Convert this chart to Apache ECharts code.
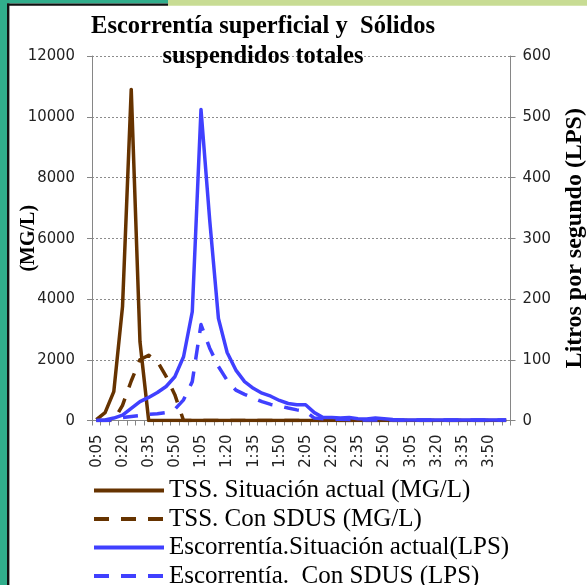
<!DOCTYPE html>
<html>
<head>
<meta charset="utf-8">
<script src="https://cdn.jsdelivr.net/npm/echarts@6/dist/echarts.min.js"></script>
<style>
html,body{margin:0;padding:0;background:#fff;}
#chart{width:587px;height:585px;}
</style>
</head>
<body>
<div id="chart"></div>
<script>
var times = ['0:05','0:10','0:15','0:20','0:25','0:30','0:35','0:40','0:45','0:50','0:55','1:00',
             '1:05','1:10','1:15','1:20','1:25','1:30','1:35','1:40','1:45','1:50','1:55','2:00',
             '2:05','2:10','2:15','2:20','2:25','2:30','2:35','2:40','2:45','2:50','2:55','3:00',
             '3:05','3:10','3:15','3:20','3:25','3:30','3:35','3:40','3:45','3:50','3:55','4:00'];

var tssActual = [30,260,950,3750,10900,2600,0,0,0,0,0,0,
                 0,0,0,0,0,0,0,0,0,0,0,0,
                 0,0,0,0,0,0,0,0,0,0,0,0,
                 0,0,0,0,0,0,0,0,0,0,0,0];

var tssSdus = [0,0,0,500,1300,2000,2150,1950,1450,850,0,0,
               0,0,0,0,0,0,0,0,0,0,0,0,
               0,0,0,0,0,0,0,0,0,0,0,0,
               0,0,0,0,0,0,0,0,0,0,0,0];

var escActual = [0,1,4,9,20,31,38,46,56,72,105,179,
                 512,330,168,112,83,64,53,45,40,33,28,26,
                 26,13,5,5,4,5,3,2.5,4,3,1.5,1,
                 1,1,1,1,1,1,1,1,1,1,1,1];

var escSdus = [0,0,1,5,6.5,8,10,11,13,18.5,34,64,
               158,119,89,66,50,43,37,31,26.5,24,20.5,17.5,
               15,4,3,2,2,1.5,1,1,1,1,1,1,
               1,1,1,1,1,1,1,1,1,1,1,1];

var leftTicks = [0,2000,4000,6000,8000,10000,12000];
var rightTicks = [0,100,200,300,400,500,600];

var names = ['TSS. Situación actual (MG/L)','TSS. Con SDUS (MG/L)',
             'Escorrentía.Situación actual(LPS)','Escorrentía.  Con SDUS (LPS)'];

var brown = '#663300';
var blue = '#4040FF';
var axisGray = '#868686';
var labelFont = "'DejaVu Sans Condensed','DejaVu Sans',sans-serif";
var serif = "'Liberation Serif','Times New Roman',serif";

var chart = echarts.init(document.getElementById('chart'), null, {renderer:'canvas'});

function mkSeries(name, data, color, dashed, yIdx){
  return {
    name: name, type: 'line', data: data, yAxisIndex: yIdx,
    symbol: 'none', showSymbol: false, smooth: false,
    lineStyle: {color: color, width: 3.5, type: dashed ? [15, 12] : 'solid', cap: 'butt', join: 'round'},
    itemStyle: {color: color},
    emphasis: {disabled: true}
  };
}

function plain(v){ return String(v); }

chart.setOption({
  animation: false,
  backgroundColor: '#ffffff',
  graphic: [
    {type:'rect', shape:{x:0,y:0,width:7,height:585}, style:{fill:'#31AE8C'}, z:100},
    {type:'rect', shape:{x:0,y:0,width:168,height:3.5}, style:{fill:'#31AE8C'}, z:100},
    {type:'rect', shape:{x:168,y:0,width:419,height:5.7}, style:{fill:'#C8DC94'}, z:100},
    {type:'rect', shape:{x:7,y:3.5,width:161,height:2.3}, style:{fill:'#111111'}, z:101},
    {type:'rect', shape:{x:7,y:3.5,width:2.4,height:582}, style:{fill:'#111111'}, z:101}
  ],
  title: {
    text: 'Escorrentía superficial y  Sólidos\nsuspendidos totales',
    left: 263, top: 12, textAlign: 'center', padding: 0,
    textStyle: {fontFamily: serif, fontWeight: 'bold', fontSize: 24.5, lineHeight: 30, color: '#000'}
  },
  legend: {
    data: names,
    orient: 'vertical', left: 92, top: 478, height: 160, padding: 0,
    itemWidth: 70, itemHeight: 14, itemGap: 3.5,
    itemStyle: {opacity: 0},
    lineStyle: {width: 4},
    textStyle: {fontFamily: serif, fontSize: 25, lineHeight: 24, color: '#000'},
    selectedMode: false
  },
  grid: {left: 92, right: 76.5, top: 56, bottom: 164.5, containLabel: false, outerBoundsMode: 'none'},
  xAxis: {
    type: 'category', data: times, boundaryGap: true,
    axisLine: {lineStyle: {color: axisGray, width: 1}},
    axisTick: {show: true, interval: 0, length: 5, lineStyle: {color: axisGray}},
    axisLabel: {interval: 2, rotate: 90, margin: 14, fontFamily: labelFont, fontSize: 16.5, color: '#222'},
    splitLine: {show: false}
  },
  yAxis: [
    {
      type: 'value', min: leftTicks[0], max: leftTicks[leftTicks.length-1], interval: leftTicks[1]-leftTicks[0],
      name: '(MG/L)', nameLocation: 'middle', nameRotate: 90, nameGap: 53, nameMoveOverlap: false,
      nameTextStyle: {fontFamily: serif, fontWeight: 'bold', fontSize: 20, color: '#000'},
      axisLine: {show: true, lineStyle: {color: axisGray}},
      axisTick: {show: true, length: 5, lineStyle: {color: axisGray}},
      axisLabel: {margin: 17, formatter: plain, fontFamily: labelFont, fontSize: 16.5, color: '#222'},
      splitLine: {show: true, lineStyle: {color: '#8c8c8c', type: [2, 2], width: 1}}
    },
    {
      type: 'value', min: rightTicks[0], max: rightTicks[rightTicks.length-1], interval: rightTicks[1]-rightTicks[0],
      position: 'right',
      name: 'Litros por segundo (LPS)', nameLocation: 'middle', nameRotate: 90, nameGap: 52, nameMoveOverlap: false,
      nameTextStyle: {fontFamily: serif, fontWeight: 'bold', fontSize: 24, color: '#000'},
      axisLine: {show: true, lineStyle: {color: axisGray}},
      axisTick: {show: true, length: 5, lineStyle: {color: axisGray}},
      axisLabel: {margin: 12, formatter: plain, fontFamily: labelFont, fontSize: 16.5, color: '#222'},
      splitLine: {show: false}
    }
  ],
  series: [
    mkSeries(names[0], tssActual, brown, false, 0),
    mkSeries(names[1], tssSdus, brown, true, 0),
    mkSeries(names[2], escActual, blue, false, 1),
    mkSeries(names[3], escSdus, blue, true, 1)
  ]
});
</script>
</body>
</html>
